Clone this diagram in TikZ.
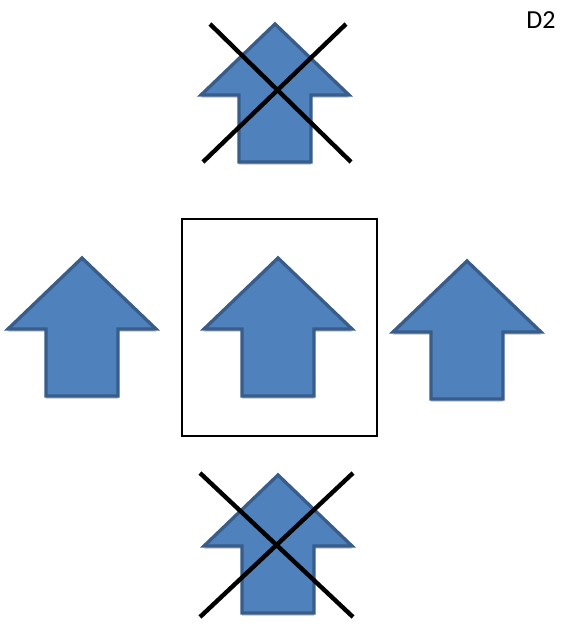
\documentclass[tikz,border=0pt]{standalone}
\usepackage{fontspec}
\setmainfont{Carlito}
\usepackage{tikz}
\usetikzlibrary{shadows}

\definecolor{arrowfill}{HTML}{4F81BD}
\definecolor{arrowline}{HTML}{385D8A}

\begin{document}
\begin{tikzpicture}[
    x=1pt,y=-1pt,
    every node/.style={font=\fontsize{26}{30}\selectfont},
    uparrow/.style={fill=arrowfill,draw=arrowline,line width=3.3pt,line join=miter,
      drop shadow={shadow xshift=0pt,shadow yshift=-2.5pt,opacity=0.25,fill=black}},
    crossline/.style={line width=4.4pt,black},
    frame/.style={draw,line width=1.6pt},
]
\useasboundingbox (0,0) rectangle (561,624);
% arrows, tip positions
\foreach \tx/\ty in {275/22, 82/256, 278/256, 467/259, 278/473}{
  \draw[uparrow,shift={(\tx,\ty)}] (0,2) -- (74,73) -- (36,73) -- (36,140)
    -- (-36,140) -- (-36,73) -- (-74,73) -- cycle;
}
% selection box
\coordinate (boxA) at (182,219);
\coordinate (boxB) at (377,436);
\draw[frame] (boxA) rectangle (boxB);
% crosses
\coordinate (t1) at (210,24);  \coordinate (t2) at (351,162);
\coordinate (t3) at (346,24);  \coordinate (t4) at (203,162);
\draw[crossline] (t1) -- (t2);
\draw[crossline] (t3) -- (t4);
\coordinate (b1) at (200,473); \coordinate (b2) at (353,617);
\coordinate (b3) at (353,473); \coordinate (b4) at (200,617);
\draw[crossline] (b1) -- (b2);
\draw[crossline] (b3) -- (b4);
\node (lbl) at (541,20) {D2};
\end{tikzpicture}
\end{document}
